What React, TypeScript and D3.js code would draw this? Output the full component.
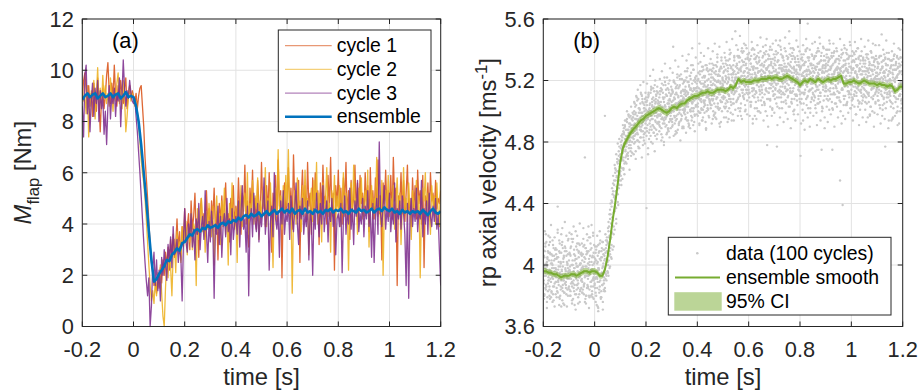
import React from "react";
import * as d3 from "d3";

// ---------------- data ----------------
const timeStart = -0.2;
const cycleStep = 0.005; // s, cycles 1-3
const ensembleStep = 0.01; // s, ensemble curves
const scatterStep = 0.002; // s, scatter samples

const timeTicks = [-0.2, 0, 0.2, 0.4, 0.6, 0.8, 1, 1.2];
const timeTickLabels = ["-0.2", "0", "0.2", "0.4", "0.6", "0.8", "1", "1.2"];
const momentTicks = [0, 2, 4, 6, 8, 10, 12];
const momentTickLabels = ["0", "2", "4", "6", "8", "10", "12"];
const velocityTicks = [3.6, 4, 4.4, 4.8, 5.2, 5.6];
const velocityTickLabels = ["3.6", "4", "4.4", "4.8", "5.2", "5.6"];

const legendA = ["cycle 1", "cycle 2", "cycle 3", "ensemble"];
const legendB = ["data (100 cycles)", "ensemble smooth", "95% CI"];

// flap moment [Nm], cycle 1
const cycle1 = [
  8.9, 9.6, 9.9, 9.2, 8.7, 9.4, 8.6, 9.1, 8.2, 9.5, 8.9, 8.4, 9.7, 8.8, 7.6, 8.9, 9.3, 8.5, 9.0, 9.8,
  10.3, 9.2, 8.7, 9.5, 8.9, 10.2, 9.0, 8.6, 9.4, 8.8, 9.6, 9.1, 8.7, 9.3, 9.7, 8.5, 9.0, 9.4, 8.9, 9.2,
  9.0, 8.7, 9.1, 8.5, 9.0, 9.3, 9.4, 8.6, 7.8, 6.6, 5.8, 5.0, 4.1, 3.2, 2.5, 2.1, 1.6, 1.8, 1.3, 1.9,
  1.5, 2.3, 1.7, 2.6, 2.0, 2.9, 2.4, 3.1, 2.2, 3.4, 2.8, 3.6, 2.7, 3.2, 4.2, 3.0, 3.7, 2.6, 3.9, 3.3,
  4.6, 3.4, 3.9, 4.4, 3.0, 4.9, 3.8, 4.3, 5.2, 3.6, 4.1, 2.7, 4.5, 5.0, 3.9, 4.4, 3.5, 5.3, 4.0, 4.6,
  3.8, 4.9, 4.2, 5.4, 3.7, 4.5, 2.6, 4.8, 4.1, 5.1, 3.9, 4.6, 5.6, 4.0, 4.4, 3.3, 5.0, 4.3, 5.5, 3.9,
  4.7, 4.1, 5.8, 4.4, 3.6, 5.2, 4.5, 6.3, 4.0, 4.9, 3.1, 5.4, 4.6, 6.1, 4.2, 5.0, 3.8, 5.7, 4.8, 4.3,
  6.4, 4.6, 5.1, 3.9, 5.5, 4.4, 6.0, 4.8, 2.9, 5.2, 4.5, 5.9, 4.1, 6.5, 4.7, 5.3, 1.9, 4.9, 5.6, 4.4,
  5.0, 6.2, 4.5, 5.4, 3.8, 6.7, 4.8, 5.1, 4.2, 5.7, 2.5, 5.0, 6.1, 4.6, 5.5, 4.1, 6.4, 4.7, 5.2, 3.6,
  5.8, 4.4, 6.0, 4.9, 5.3, 3.2, 5.6, 4.5, 6.3, 4.8, 5.1, 4.0, 5.9, 4.6, 6.6, 4.3, 5.2, 2.2, 5.5, 4.7,
  6.1, 4.5, 5.4, 4.0, 5.8, 4.9, 6.4, 4.2, 5.3, 3.4, 5.7, 4.6, 5.0, 6.3, 4.4, 5.6, 4.1, 5.9, 4.8, 5.2,
  4.3, 6.0, 4.9, 5.5, 3.7, 6.2, 4.6, 5.3, 4.2, 5.8, 4.7, 6.5, 4.4, 5.1, 2.6, 5.6, 4.8, 6.1, 4.5, 5.3,
  4.6, 5.9, 4.2, 6.6, 4.9, 5.4, 1.6, 5.1, 4.7, 6.0, 4.4, 5.7, 4.1, 5.2, 6.3, 4.5, 5.0, 3.9, 5.8, 4.6,
  5.5, 4.2, 6.1, 4.8, 5.3, 4.0, 5.9, 2.3, 5.1, 4.7, 5.6, 4.3, 6.0, 4.9, 5.2, 4.4, 5.7, 4.6, 5.0, 4.8, 5.3,
];

// flap moment [Nm], cycle 2
const cycle2 = [
  9.3, 8.8, 9.0, 8.3, 9.4, 7.4, 8.6, 9.2, 8.9, 9.6, 8.1, 9.0, 10.1, 8.7, 9.3, 8.5, 9.8, 8.9, 9.4, 8.7,
  9.1, 8.6, 9.7, 9.0, 8.4, 9.3, 8.8, 9.5, 9.9, 8.7, 9.2, 8.5, 9.6, 8.9, 7.6, 8.2, 9.0, 9.4, 8.8, 9.1,
  8.9, 8.6, 8.8, 8.4, 7.9, 7.2, 6.5, 6.0, 5.6, 5.0, 4.2, 3.3, 2.4, 1.6, 1.0, 1.4, 0.9, 1.8, 1.2, 2.1,
  1.6, 2.4, 1.3, 0.4, 0.0, 1.5, 2.6, 1.9, 3.0, 2.3, 1.2, 2.8, 3.4, 2.1, 3.7, 2.9, 3.3, 2.5, 3.9, 3.1,
  3.6, 4.1, 2.8, 3.9, 3.3, 4.4, 3.0, 4.0, 3.8, 1.6, 4.6, 3.4, 4.2, 5.0, 3.7, 4.3, 2.9, 4.5, 3.8, 4.8,
  4.1, 3.5, 4.7, 2.4, 4.0, 5.1, 3.7, 4.4, 3.2, 4.9, 4.2, 5.4, 3.6, 4.5, 2.4, 4.8, 4.0, 5.6, 4.3, 3.8,
  4.6, 2.5, 4.9, 4.1, 5.5, 3.9, 4.7, 5.2, 4.3, 6.0, 3.6, 4.8, 4.4, 5.7, 4.0, 5.1, 4.6, 5.8, 3.4, 4.9,
  4.2, 5.3, 4.7, 6.2, 3.9, 5.0, 4.4, 5.6, 4.1, 2.3, 4.8, 5.4, 4.3, 6.9, 4.6, 5.1, 3.8, 5.5, 4.5, 5.9,
  4.7, 6.9, 4.2, 5.0, 1.3, 4.4, 5.3, 4.0, 5.8, 4.5, 4.9, 3.7, 5.5, 4.3, 6.1, 4.6, 5.0, 2.8, 4.8, 5.4,
  4.1, 5.7, 4.5, 6.4, 4.0, 5.2, 4.7, 3.3, 5.6, 4.4, 5.0, 6.2, 4.3, 4.8, 2.9, 5.3, 4.6, 5.9, 4.2, 5.1,
  4.5, 5.5, 3.9, 4.9, 6.0, 4.3, 5.2, 4.7, 2.2, 4.8, 5.6, 4.1, 6.3, 4.5, 5.0, 3.6, 5.4, 4.6, 5.8, 4.2,
  4.9, 5.3, 4.4, 6.1, 3.1, 4.7, 5.5, 4.2, 5.0, 4.6, 6.6, 4.3, 5.1, 4.0, 5.7, 2.0, 4.8, 5.3, 4.5, 5.9,
  4.3, 5.0, 4.6, 5.5, 3.8, 4.9, 5.8, 4.4, 5.2, 3.2, 4.7, 6.2, 4.5, 5.0, 4.1, 5.6, 4.6, 3.4, 5.3, 4.8,
  4.4, 5.7, 4.2, 5.1, 1.9, 4.6, 5.4, 4.9, 6.0, 4.3, 5.2, 4.5, 3.6, 5.5, 4.7, 5.1, 4.0, 5.6, 4.4, 3.9, 6.2,
];

// flap moment [Nm], cycle 3
const cycle3 = [
  8.6, 7.4, 9.8, 10.2, 8.3, 9.1, 7.6, 8.8, 9.5, 8.2, 9.3, 8.7, 9.6, 8.0, 9.2, 8.5, 9.0, 7.5, 8.4, 7.1,
  8.6, 9.4, 8.1, 9.0, 8.7, 9.3, 8.2, 9.1, 8.8, 9.7, 7.8, 9.0, 10.4, 9.3, 8.6, 9.2, 8.9, 9.6, 9.1, 8.8,
  8.7, 8.9, 8.2, 7.6, 6.8, 6.0, 5.1, 4.2, 3.3, 2.5, 1.8, 1.2, 1.9, 0.0, 0.8, 2.3, 2.9, 1.6, 2.6, 1.4,
  2.2, 1.0, 2.7, 2.0, 3.0, 2.4, 1.8, 3.2, 2.6, 3.5, 2.3, 3.9, 2.8, 2.9, 3.4, 2.5, 3.1, 2.7, 1.0, 3.2,
  4.6, 3.3, 2.9, 4.0, 3.5, 4.4, 3.1, 3.8, 2.6, 4.2, 3.6, 4.8, 3.0, 3.9, 4.3, 3.4, 5.3, 3.7, 2.5, 4.1,
  3.3, 4.5, 3.8, 1.1, 4.0, 3.6, 4.7, 3.2, 4.3, 2.7, 3.9, 4.4, 3.5, 5.0, 3.7, 4.2, 2.8, 4.6, 3.4, 4.0,
  4.3, 3.6, 4.9, 3.1, 4.5, 5.5, 3.8, 4.2, 2.9, 4.7, 1.2, 4.0, 4.6, 3.5, 5.2, 4.1, 3.7, 4.8, 3.3, 4.4,
  3.9, 4.6, 5.8, 3.6, 4.3, 4.9, 2.2, 4.1, 4.7, 3.5, 6.0, 4.2, 3.8, 4.5, 2.7, 4.9, 4.0, 5.3, 3.6, 4.4,
  4.1, 4.8, 3.4, 5.1, 4.3, 3.7, 4.6, 5.6, 4.0, 3.2, 4.7, 4.2, 5.0, 3.6, 4.4, 3.9, 4.9, 2.6, 4.5, 4.1,
  2.0, 4.6, 3.8, 5.2, 4.3, 3.5, 4.8, 4.0, 5.5, 3.7, 4.4, 4.9, 3.3, 4.6, 4.1, 5.0, 3.9, 4.5, 2.8, 4.2,
  4.4, 3.9, 4.8, 2.1, 4.2, 5.1, 3.6, 4.5, 4.0, 5.4, 3.8, 4.6, 3.2, 4.9, 4.3, 5.7, 3.7, 4.4, 4.0, 5.0,
  3.5, 4.7, 4.2, 5.3, 3.9, 4.5, 2.7, 4.8, 2.5, 4.3, 5.0, 3.6, 7.2, 4.4, 3.9, 4.7, 5.5, 3.8, 4.6, 4.1,
  5.2, 3.7, 4.5, 4.0, 5.6, 3.3, 4.6, 4.2, 4.9, 3.8, 5.1, 4.4, 3.6, 1.6, 4.8, 1.1, 4.3, 5.0, 3.9, 4.6,
  4.1, 5.4, 3.7, 4.5, 4.2, 5.7, 3.5, 4.6, 4.0, 4.9, 3.6, 5.2, 4.3, 3.9, 4.7, 4.1, 5.0, 3.8, 4.4, 2.9, 1.6,
];

// flap moment [Nm], ensemble average
const ensembleMoment = [
  8.85, 9.0, 9.1, 8.95, 9.05, 9.1, 8.9, 9.0, 9.1, 8.95,
  9.0, 9.1, 8.95, 9.05, 9.1, 8.9, 9.0, 9.15, 8.95, 9.0,
  8.95, 8.6, 8.0, 7.1, 6.0, 4.9, 3.7, 2.6, 1.75, 1.85,
  2.05, 2.2, 2.35, 2.6, 2.55, 2.8, 2.9, 3.05, 2.95, 3.25,
  3.3, 3.45, 3.6, 3.55, 3.75, 3.8, 3.7, 3.85, 3.8, 3.95,
  3.85, 3.9, 3.95, 3.85, 4.0, 4.05, 3.95, 4.1, 4.05, 4.15,
  4.1, 4.25, 4.15, 4.3, 4.35, 4.25, 4.4, 4.3, 4.35, 4.45,
  4.3, 4.4, 4.5, 4.35, 4.45, 4.55, 4.4, 4.5, 4.6, 4.45,
  4.55, 4.45, 4.6, 4.4, 4.5, 4.55, 4.4, 4.6, 4.45, 4.5,
  4.4, 4.55, 4.45, 4.5, 4.4, 4.55, 4.5, 4.6, 4.45, 4.55,
  4.5, 4.6, 4.45, 4.5, 4.4, 4.55, 4.5, 4.45, 4.6, 4.5,
  4.55, 4.45, 4.5, 4.6, 4.45, 4.55, 4.6, 4.5, 4.65, 4.55,
  4.5, 4.6, 4.45, 4.5, 4.4, 4.55, 4.45, 4.5, 4.4, 4.5,
  4.45, 4.5, 4.4, 4.55, 4.45, 4.35, 4.5, 4.6, 4.45, 4.4, 4.5,
];

// rotor-plane axial velocity [m/s], ensemble smooth
const ensembleVelocity = [
  3.96, 3.96, 3.95, 3.95, 3.94, 3.94, 3.93, 3.92, 3.93, 3.93,
  3.93, 3.94, 3.94, 3.93, 3.94, 3.95, 3.96, 3.96, 3.95, 3.96,
  3.96, 3.95, 3.93, 3.93, 3.97, 4.05, 4.16, 4.29, 4.40, 4.53,
  4.67, 4.76, 4.80, 4.83, 4.86, 4.88, 4.90, 4.92, 4.94, 4.95,
  4.97, 4.98, 4.99, 5.00, 5.01, 5.02, 5.01, 5.00, 4.99, 5.00,
  5.02, 5.03, 5.02, 5.04, 5.05, 5.05, 5.07, 5.08, 5.09, 5.10,
  5.10, 5.11, 5.12, 5.12, 5.13, 5.12, 5.12, 5.13, 5.14, 5.14,
  5.14, 5.13, 5.14, 5.16, 5.15, 5.17, 5.21, 5.19, 5.20, 5.19,
  5.19, 5.19, 5.20, 5.20, 5.20, 5.21, 5.21, 5.21, 5.22, 5.21,
  5.22, 5.22, 5.21, 5.21, 5.22, 5.23, 5.22, 5.21, 5.20, 5.19,
  5.17, 5.19, 5.20, 5.19, 5.21, 5.20, 5.19, 5.21, 5.20, 5.19,
  5.20, 5.21, 5.20, 5.21, 5.21, 5.22, 5.23, 5.18, 5.18, 5.19,
  5.19, 5.20, 5.19, 5.18, 5.19, 5.20, 5.19, 5.18, 5.18, 5.18,
  5.17, 5.18, 5.17, 5.17, 5.16, 5.17, 5.16, 5.13, 5.14, 5.16, 5.16,
];

// 95% CI half width [m/s] per 0.1 s interval
const ciHalfWidth = [0.02, 0.02, 0.02, 0.025, 0.022, 0.02, 0.02, 0.02, 0.02, 0.02, 0.02, 0.02, 0.02, 0.02, 0.02];

// scattered velocity samples [m/s] (four sample sets, 0.002 s spacing)
const velocitySetA = [
  3.99,3.88,4.05,3.93,4.12,3.84,3.97,4.02,3.79,3.95,4.08,3.90,3.86,4.15,3.94,4.01,3.82,3.98,4.06,3.91,3.77,4.03,3.96,4.10,3.89,
  3.92,4.04,3.83,4.38,3.97,3.87,4.09,3.95,3.80,4.01,3.90,4.13,3.85,3.99,3.75,4.06,3.93,3.88,4.11,3.96,3.81,4.02,3.91,3.98,4.17,
  3.86,3.97,4.07,3.83,3.94,4.20,3.89,4.00,3.78,3.96,4.10,3.87,3.93,4.04,3.81,3.99,4.14,3.90,3.85,4.05,3.92,3.76,4.01,3.95,4.08,
  3.91,4.03,3.84,4.12,3.96,3.88,4.70,3.99,3.80,4.07,3.93,4.16,3.86,3.98,4.04,3.79,3.95,4.10,3.89,4.02,3.83,3.97,4.21,3.90,4.05,
  3.96,3.85,4.08,3.92,3.74,4.01,3.89,4.13,3.97,3.82,4.04,3.93,3.78,4.09,3.95,3.87,4.15,3.99,3.84,4.06,4.97,3.91,4.11,4.02,4.18,
  4.08,3.95,4.22,4.12,3.98,4.30,4.17,4.05,4.38,4.21,4.46,4.29,4.12,4.52,4.36,4.60,4.44,4.27,4.58,4.49,4.66,4.39,4.71,4.55,4.64,
  4.72,4.58,4.78,4.69,4.83,4.74,4.62,4.86,4.79,4.91,4.70,4.84,4.77,4.95,4.81,4.73,4.88,4.92,4.80,4.85,4.97,4.76,4.89,4.83,4.94,
  4.86,4.98,4.79,4.92,5.03,4.85,4.95,4.88,5.07,4.81,4.93,4.99,4.76,4.90,5.05,4.94,4.87,5.10,4.91,4.97,4.83,5.02,4.95,4.89,5.06,
  4.96,4.37,5.04,4.91,5.09,4.98,4.86,5.02,4.94,5.12,5.00,4.88,5.06,4.95,5.15,4.90,5.03,4.97,4.84,5.08,4.99,5.13,4.92,5.05,4.98,
  5.02,4.93,5.11,4.97,5.06,4.89,5.14,5.00,4.95,5.08,4.80,5.03,4.96,5.17,5.01,4.91,5.10,4.98,5.05,4.87,5.12,4.99,5.07,4.94,5.16,
  5.04,4.95,5.13,5.42,5.00,5.09,4.92,5.18,5.05,4.97,5.11,5.02,4.88,5.15,5.06,4.99,5.21,5.03,4.94,5.10,5.07,4.90,5.14,5.01,5.19,
  5.08,4.98,5.16,5.03,5.22,4.94,5.11,5.05,5.19,4.91,5.09,5.14,5.00,5.25,5.06,4.96,5.13,5.02,5.20,5.07,4.87,5.15,5.04,5.23,5.10,
  5.13,5.03,5.21,5.08,5.44,5.12,4.99,5.18,5.06,5.26,5.10,5.01,5.16,5.23,5.05,5.19,4.93,5.14,5.09,5.28,5.02,5.17,5.11,5.24,5.07,
  5.15,5.04,5.22,5.10,5.31,5.07,5.18,4.97,5.25,5.12,5.20,5.03,5.16,5.29,5.09,5.23,5.14,5.01,5.27,5.11,5.19,5.06,5.33,5.13,5.21,
  5.17,5.08,5.26,5.12,5.35,5.05,5.21,5.14,5.30,5.00,5.19,5.24,5.10,5.37,5.16,5.06,5.28,5.13,5.22,4.98,5.25,5.11,5.33,5.18,5.52,
  5.24,5.13,5.31,5.20,5.40,5.09,5.27,5.16,5.35,5.22,5.05,5.29,5.18,5.38,5.14,5.25,5.32,5.11,5.21,5.43,5.17,5.28,5.07,5.34,5.23,
  5.20,5.33,5.12,5.27,5.04,5.36,5.22,5.15,5.41,5.18,5.29,5.09,5.25,5.34,5.13,5.23,5.02,5.31,5.19,5.38,5.16,5.26,5.11,5.30,5.21,
  5.24,5.14,5.35,5.19,5.29,5.06,5.32,5.22,5.43,5.15,5.27,4.78,5.21,5.37,5.12,5.30,5.25,5.08,5.34,5.18,5.40,5.23,5.13,5.28,5.20,
  5.31,5.11,5.26,5.39,5.17,5.24,5.03,5.33,5.20,5.28,5.14,5.46,5.22,5.09,5.30,5.19,5.36,5.12,5.27,5.23,5.41,5.16,5.29,5.05,5.25,
  5.18,5.34,5.10,5.27,5.52,5.21,5.15,5.32,5.06,5.25,5.38,5.13,5.23,5.29,5.01,5.35,5.19,5.26,5.11,5.30,5.22,5.42,5.14,5.24,5.08,
  5.20,4.71,5.29,5.12,5.35,5.17,5.25,5.05,5.31,5.22,5.14,5.40,5.19,5.27,5.09,5.57,5.21,5.33,5.13,5.26,5.02,5.30,5.18,5.37,5.15,
  5.23,5.11,5.34,5.19,5.28,5.04,5.36,5.21,5.14,5.31,5.25,5.08,5.39,5.17,5.27,5.12,5.33,4.75,5.22,5.29,5.16,5.41,5.20,5.10,5.30,
  5.26,5.13,5.37,5.20,5.30,5.07,5.33,5.22,5.44,5.15,5.28,5.18,5.35,5.02,5.24,5.31,5.11,5.39,5.21,5.27,5.16,5.34,5.09,5.29,5.23,
  5.19,5.36,5.12,4.55,5.28,5.21,5.40,5.14,4.39,5.25,5.33,5.08,5.22,5.30,5.17,5.38,5.05,5.26,5.20,5.34,5.13,5.29,5.18,5.43,5.11,
  5.21,5.32,5.09,5.27,5.16,5.38,5.03,5.25,5.19,5.34,5.12,5.29,5.22,5.41,5.14,5.26,5.06,5.31,5.18,5.36,5.10,5.24,5.20,5.33,5.15,
  5.22,5.10,5.31,5.17,5.37,5.05,5.26,5.19,5.34,5.12,5.28,4.98,5.23,5.39,5.14,5.30,5.20,5.08,5.35,5.16,5.27,5.11,5.43,5.21,5.13,
  5.19,5.32,5.07,5.24,5.14,5.36,5.02,5.27,5.18,5.50,5.10,5.29,5.21,5.33,5.05,5.25,4.77,5.31,5.16,5.38,5.12,5.23,5.09,5.34,5.20,
  5.15,5.28,5.06,5.33,5.18,5.25,4.96,5.30,5.12,5.37,5.21,5.09,5.27,5.14,5.35,5.03,5.24,5.17,5.31,5.10,5.40,5.19,5.07,5.26,5.53,
  5.16,
];
const velocitySetB = [
  3.93,4.06,3.81,3.98,4.14,3.87,4.01,3.76,3.95,4.09,3.90,4.03,3.84,4.18,3.96,3.79,4.07,3.92,4.00,3.86,4.11,3.94,3.73,4.04,3.98,
  3.89,4.10,3.95,3.82,4.05,3.91,4.16,3.78,3.99,3.86,4.08,3.94,4.24,3.83,4.02,3.90,3.74,4.12,3.97,3.85,4.06,3.92,4.01,3.80,3.96,
  4.03,3.84,3.96,4.11,3.88,4.00,3.77,4.15,3.93,3.85,4.07,3.98,3.81,4.22,3.91,4.04,3.87,3.99,3.75,4.09,3.95,4.13,3.83,3.97,3.90,
  4.06,3.82,3.99,4.17,3.87,4.02,3.93,3.78,4.11,3.96,3.85,4.08,3.91,4.25,3.80,4.00,3.94,4.14,3.86,3.97,4.05,3.79,4.19,3.92,4.01,
  3.88,4.04,3.95,3.80,4.12,3.91,4.02,3.72,3.97,4.09,3.86,4.16,3.93,3.83,4.05,3.98,3.76,4.10,3.90,4.03,3.85,4.08,3.94,4.13,4.00,
  3.96,4.14,4.03,4.25,4.09,3.99,4.33,4.18,4.42,4.26,4.10,4.48,4.34,4.55,4.23,4.43,4.62,4.37,4.51,4.69,4.46,4.57,4.74,4.52,4.68,
  4.61,4.76,4.68,4.81,4.56,4.73,4.87,4.79,4.66,4.90,4.75,4.84,4.71,4.93,4.82,4.69,4.86,4.78,4.96,4.83,4.74,4.91,4.87,4.80,4.99,
  4.91,4.82,5.00,4.87,4.95,4.74,5.04,4.90,4.97,4.85,5.08,4.93,4.80,5.01,4.96,4.88,5.11,4.92,4.99,4.78,5.05,4.94,5.02,4.86,4.98,
  5.01,4.89,5.07,4.95,4.72,5.10,4.99,4.92,5.05,4.84,5.14,4.97,5.03,4.91,5.09,4.86,5.00,5.17,4.94,5.06,4.88,5.02,4.96,5.12,4.93,
  4.97,5.09,4.90,5.04,5.15,4.95,5.01,4.83,5.12,4.99,5.06,4.92,5.19,5.03,4.96,5.10,4.86,5.05,5.00,5.14,4.93,5.08,5.02,4.89,5.11,
  5.06,4.93,5.12,5.00,5.20,4.97,5.08,4.85,5.15,5.03,4.95,5.17,5.05,5.10,4.91,5.23,5.01,5.07,4.98,5.13,5.04,4.89,5.18,5.09,4.99,
  5.02,5.14,4.95,5.10,5.04,5.26,4.99,5.12,4.90,5.17,5.07,5.01,5.21,4.97,5.11,5.05,5.30,5.00,5.15,4.93,5.09,5.19,5.03,5.13,4.98,
  5.09,5.20,5.00,5.15,4.92,5.24,5.07,5.13,5.02,5.29,5.11,4.96,5.18,5.06,5.22,5.04,5.16,4.89,5.27,5.10,5.14,5.01,5.21,5.08,5.31,
  5.12,5.02,5.24,5.08,5.17,4.95,5.28,5.11,5.05,5.20,4.99,5.26,5.14,5.09,5.32,5.03,5.19,5.13,4.92,5.23,5.07,5.29,5.16,5.00,5.18,
  5.13,5.25,5.03,5.19,5.09,5.31,4.96,5.22,5.15,5.06,5.28,5.11,5.02,5.34,5.17,5.08,5.24,4.94,5.20,5.14,5.30,5.05,5.26,5.12,5.21,
  5.18,5.06,5.30,5.15,5.25,5.02,5.36,5.21,5.10,5.28,4.97,5.23,5.33,5.12,5.19,5.39,5.08,5.26,5.16,5.01,5.31,5.22,5.14,5.35,5.11,
  5.25,5.09,5.18,5.34,5.03,5.22,5.29,5.13,4.95,5.27,5.20,5.37,5.11,5.24,5.06,5.32,5.17,5.28,5.00,5.21,5.35,5.14,5.26,4.99,5.23,
  5.16,5.31,5.09,5.26,5.20,5.38,5.04,5.23,5.14,5.33,5.27,4.97,5.19,5.29,5.12,5.36,5.22,5.07,5.30,5.17,5.25,5.01,5.34,5.21,5.11,
  5.22,5.08,5.30,5.18,5.37,4.77,5.25,5.13,5.33,5.21,5.02,5.28,5.16,5.40,5.11,5.26,5.19,5.35,5.06,5.24,5.31,5.15,4.99,5.27,5.20,
  5.26,5.14,5.35,5.03,5.23,5.30,5.12,5.41,5.19,5.08,5.28,5.21,5.36,4.98,5.25,5.17,5.32,5.10,5.27,5.22,5.04,5.34,5.16,5.29,5.13,
  5.11,5.28,5.05,5.24,5.18,5.33,4.94,5.21,5.30,5.12,5.26,5.39,5.08,5.23,5.16,5.35,5.02,5.27,5.20,4.90,5.31,5.14,5.25,5.09,5.36,
  5.18,5.30,5.07,5.25,5.36,5.13,5.22,4.99,5.29,5.16,5.41,5.10,5.24,5.32,5.06,5.27,5.19,5.38,5.03,5.26,5.14,5.33,5.21,4.96,5.28,
  5.17,5.31,5.08,5.23,5.40,5.14,5.27,5.01,5.34,5.20,5.11,5.29,5.24,4.75,5.18,5.36,5.12,5.26,5.05,5.32,5.22,5.15,5.39,5.09,5.25,
  5.28,5.12,5.33,5.20,5.06,5.26,5.37,5.15,5.23,4.97,5.30,5.18,5.41,5.10,5.27,5.21,5.04,5.34,5.16,5.25,5.11,5.36,5.19,5.02,5.29,
  5.14,5.27,5.04,5.33,5.20,5.11,5.37,5.18,5.25,4.98,5.30,5.15,5.22,5.07,5.35,5.19,5.28,5.01,5.24,5.12,5.39,5.16,5.26,5.09,5.31,
  5.17,5.29,5.06,5.24,5.13,5.35,5.20,4.96,5.27,5.10,5.32,5.18,5.23,5.03,5.38,5.15,5.26,5.08,5.30,5.21,4.99,5.34,5.12,5.25,5.19,
  5.23,5.10,5.29,5.16,5.35,5.04,5.21,5.27,5.13,5.32,4.97,5.19,5.25,5.08,5.37,5.15,5.22,5.02,5.30,5.17,5.11,5.34,5.20,4.94,5.26,
  5.12,5.25,5.03,5.30,5.17,4.95,5.22,5.34,5.10,5.27,5.19,5.06,5.32,5.14,5.23,5.00,5.29,5.16,4.92,5.26,5.11,5.35,5.18,5.08,5.24,
  5.13,
];
const velocitySetC = [
  4.01,3.90,3.80,4.09,3.95,4.20,3.86,3.99,4.05,3.83,3.92,4.13,3.97,3.78,4.07,3.89,4.03,3.94,4.16,3.81,3.98,4.06,3.88,3.93,4.11,
  3.97,3.85,4.05,4.21,3.90,3.99,3.79,4.08,3.94,4.02,3.73,3.96,4.15,3.87,4.04,3.92,3.82,4.09,3.98,3.89,4.19,3.93,3.84,4.07,3.95,
  3.91,4.08,3.99,3.80,4.12,3.94,3.86,4.03,4.17,3.90,3.98,3.74,4.06,3.92,4.01,3.84,4.10,3.96,3.88,4.14,3.81,4.00,3.93,4.07,3.85,
  3.98,3.89,4.07,3.95,3.81,4.13,3.92,4.04,3.75,3.99,4.09,3.87,4.01,3.93,4.18,3.84,4.06,3.96,3.80,4.11,3.90,4.00,3.86,4.08,3.94,
  4.02,3.91,3.82,4.10,3.96,3.85,4.06,3.70,3.98,3.89,4.14,3.93,4.03,3.79,4.11,3.87,3.99,4.07,3.92,3.83,4.04,3.95,4.16,3.90,4.09,
  4.15,4.00,4.28,4.06,4.19,4.36,4.11,4.27,4.04,4.41,4.31,4.53,4.20,4.45,4.35,4.63,4.48,4.30,4.57,4.67,4.41,4.61,4.50,4.77,4.59,
  4.64,4.80,4.52,4.75,4.85,4.70,4.63,4.89,4.77,4.82,4.67,4.94,4.79,4.72,4.88,4.84,4.98,4.76,4.90,4.81,4.86,4.71,4.95,4.88,4.83,
  4.96,4.84,4.91,5.05,4.80,4.99,4.89,5.09,4.86,4.94,4.77,5.02,4.93,4.99,4.83,5.12,4.90,4.97,5.06,4.87,4.95,4.81,5.00,5.08,4.92,
  4.94,5.06,4.87,5.00,4.96,5.11,4.82,5.04,4.98,4.90,5.16,4.95,5.08,4.79,5.02,4.99,5.13,4.89,5.05,4.93,5.10,4.97,4.85,5.07,5.01,
  5.05,4.91,5.13,4.98,5.02,4.85,5.18,4.96,5.09,5.00,4.94,5.22,5.04,4.90,5.11,5.01,4.97,5.15,4.88,5.07,5.03,5.20,4.95,5.10,4.99,
  5.00,5.14,4.91,5.07,5.19,5.02,4.96,5.11,4.87,5.16,5.05,5.24,4.98,5.09,5.03,4.93,5.17,5.06,5.12,4.95,5.21,5.01,5.08,4.90,5.13,
  5.11,5.01,5.20,4.96,5.13,5.07,5.28,5.03,4.92,5.16,5.09,5.23,5.00,5.14,4.94,5.18,5.06,5.27,5.02,5.10,4.98,5.21,5.08,5.15,5.04,
  5.16,5.05,5.25,5.10,4.99,5.19,5.32,5.08,5.14,4.94,5.22,5.11,5.27,5.03,5.17,5.07,5.30,5.12,5.00,5.20,5.09,5.26,4.97,5.15,5.06,
  5.07,5.19,5.27,5.04,5.14,5.22,5.00,5.30,5.10,5.17,4.96,5.24,5.08,5.15,5.35,5.05,5.20,5.12,5.26,5.02,5.18,4.93,5.28,5.09,5.16,
  5.20,5.09,5.29,5.15,5.02,5.23,5.33,5.07,5.18,5.26,5.11,4.95,5.21,5.30,5.14,5.38,5.04,5.24,5.16,5.27,5.08,5.19,5.35,5.13,5.22,
  5.29,5.15,5.22,5.36,5.08,5.25,5.18,5.32,5.00,5.27,5.20,5.14,5.41,5.23,5.10,5.30,5.17,5.26,5.04,5.34,5.19,5.12,5.28,5.37,5.16,
  5.14,5.27,5.21,5.06,5.31,5.18,5.40,5.24,5.10,5.29,5.15,5.34,4.97,5.22,5.28,5.12,5.36,5.19,5.25,5.07,5.32,5.20,5.13,5.39,5.17,
  5.27,5.12,5.22,5.36,5.17,5.30,5.05,5.25,5.20,5.39,5.13,5.28,5.23,5.34,5.08,5.26,5.18,5.42,5.15,5.31,5.21,5.02,5.29,5.16,5.37,
  5.19,5.35,5.14,5.27,5.22,5.09,5.32,5.18,5.43,5.25,5.12,5.30,5.20,5.37,5.06,5.28,5.16,5.24,5.33,5.11,5.26,5.19,5.39,5.13,5.29,
  5.23,5.09,5.31,5.17,5.26,5.37,5.13,5.29,5.20,5.05,5.34,5.22,5.15,5.40,5.27,5.11,5.32,5.18,5.24,5.07,5.36,5.21,5.14,5.30,5.19,
  5.27,5.16,5.34,5.08,5.23,5.30,5.12,5.37,5.20,5.26,4.99,5.32,5.17,5.24,5.41,5.10,5.29,5.21,5.35,5.14,5.25,5.06,5.31,5.19,5.28,
  5.12,5.26,5.20,5.35,5.09,5.29,5.17,5.38,5.23,5.05,5.31,5.14,5.27,5.21,5.44,5.10,5.33,5.18,5.25,5.02,5.30,5.16,5.36,5.22,5.13,
  5.29,5.16,5.35,5.21,5.10,5.32,5.24,5.40,5.13,5.27,5.19,5.36,5.06,5.30,5.22,5.15,5.38,5.25,5.11,5.33,5.20,5.28,5.03,5.34,5.18,
  5.24,5.31,5.07,5.27,5.19,5.35,5.14,5.29,5.22,5.38,5.10,5.26,5.16,5.33,5.04,5.28,5.20,5.37,5.13,5.25,5.31,5.09,5.23,5.17,5.36,
  5.25,5.17,5.36,5.08,5.28,5.21,5.32,5.13,5.26,5.39,5.10,5.23,5.30,5.16,5.34,5.05,5.27,5.19,5.33,5.14,5.24,5.29,5.07,5.35,5.20,
  5.26,5.14,5.33,5.20,5.09,5.28,5.22,5.37,5.11,5.25,5.18,5.31,5.03,5.27,5.21,5.35,5.15,5.24,5.10,5.32,5.19,5.29,5.06,5.23,5.34,
  5.15,5.28,5.21,5.07,5.31,5.18,5.25,5.36,5.11,5.22,5.29,5.04,5.33,5.17,5.26,5.12,5.35,5.20,5.27,5.09,5.30,5.16,5.24,5.38,5.13,
  5.21,5.10,5.29,5.17,5.33,5.05,5.24,5.20,5.36,5.12,5.27,5.15,5.31,4.99,5.22,5.28,5.08,5.34,5.18,5.25,5.11,5.30,5.19,5.02,5.26,
  5.19,
];
const velocitySetD = [
  4.10,3.78,3.99,4.22,3.85,3.93,4.15,3.72,4.04,3.88,4.19,3.96,3.80,4.08,3.91,4.26,3.83,4.01,3.76,4.13,3.94,3.86,4.18,3.98,3.81,
  4.07,3.79,3.95,4.23,3.89,4.02,3.74,4.14,3.92,3.84,4.20,3.97,3.77,4.11,3.90,4.05,3.82,4.28,3.94,3.87,4.09,3.73,4.00,4.16,3.85,
  3.96,4.21,3.80,4.06,3.91,4.17,3.75,4.00,3.88,4.25,3.83,4.03,3.94,3.71,4.12,3.87,4.19,3.99,3.79,4.08,3.92,4.27,3.84,4.01,3.90,
  4.14,3.82,3.98,4.24,3.86,4.05,3.76,4.11,3.93,3.80,4.20,3.95,3.85,4.09,3.72,4.02,4.18,3.89,3.97,4.26,3.81,4.06,3.91,3.78,4.13,
  3.87,4.12,3.76,4.03,3.92,4.19,3.73,3.98,4.08,3.84,4.22,3.90,3.79,4.05,3.95,4.15,3.71,4.01,3.88,4.10,3.83,4.20,4.04,3.93,4.16,
  4.02,4.24,3.93,4.18,4.33,4.07,4.40,4.22,4.13,4.50,4.31,4.58,4.25,4.44,4.65,4.38,4.55,4.72,4.47,4.61,4.79,4.53,4.68,4.82,4.60,
  4.70,4.55,4.84,4.63,4.77,4.91,4.68,4.85,4.59,4.94,4.74,4.88,4.66,5.00,4.80,4.71,4.97,4.83,4.62,4.92,4.78,5.03,4.86,4.73,4.96,
  4.89,4.72,5.06,4.84,4.98,4.69,5.10,4.91,4.81,5.14,4.95,4.76,5.02,4.88,5.17,4.83,4.99,4.70,5.08,4.93,5.19,4.85,5.04,4.79,5.12,
  5.09,4.84,5.18,4.95,4.76,5.12,5.01,4.88,5.23,4.97,4.80,5.15,5.04,4.91,5.27,4.86,5.07,4.74,5.20,4.99,5.11,4.82,5.16,5.02,4.92,
  5.06,4.87,5.21,4.98,5.13,4.81,5.26,5.03,4.92,5.17,4.78,5.09,5.31,4.95,5.14,4.85,5.22,5.00,4.89,5.18,5.05,4.83,5.28,4.97,5.11,
  5.14,4.90,5.25,5.03,4.84,5.19,5.08,5.33,4.94,5.12,4.86,5.22,5.01,5.29,4.92,5.16,5.05,4.81,5.24,5.10,4.97,5.36,5.07,4.89,5.20,
  5.00,5.26,5.12,4.86,5.33,5.05,5.19,4.94,5.37,5.09,5.23,4.89,5.15,5.30,5.02,5.41,5.08,4.91,5.27,5.14,4.97,5.22,5.35,5.04,5.18,
  5.20,4.97,5.31,5.09,4.91,5.26,5.14,5.38,5.01,5.18,4.94,5.29,5.07,5.36,4.99,5.23,5.12,4.88,5.30,5.16,5.04,5.41,5.10,4.96,5.27,
  5.05,5.34,5.17,4.92,5.26,5.39,5.08,5.21,4.98,5.44,5.13,5.30,4.95,5.19,5.37,5.02,5.24,5.11,5.42,4.90,5.28,5.15,5.35,5.06,5.22,
  5.31,5.10,4.96,5.38,5.19,5.27,5.03,5.45,5.14,4.93,5.33,5.22,5.08,5.40,5.17,4.99,5.29,5.12,5.47,5.05,5.24,4.94,5.36,5.20,5.01,
  5.16,5.43,5.07,5.28,4.97,5.35,5.21,5.11,5.49,5.02,5.26,5.39,4.95,5.18,5.32,5.09,5.44,5.23,5.00,5.30,5.14,5.41,4.98,5.25,5.37,
  5.12,5.38,4.97,5.24,5.31,5.06,5.45,5.19,4.92,5.28,5.14,5.40,5.02,5.22,5.35,4.95,5.17,5.43,5.09,5.26,5.00,5.33,5.21,5.48,5.07,
  5.30,5.04,5.19,5.42,4.94,5.25,5.11,5.37,5.00,5.28,5.47,5.08,5.21,4.90,5.34,5.15,5.40,5.03,5.23,5.32,4.97,5.18,5.44,5.10,5.26,
  4.99,5.33,5.15,5.46,5.05,5.24,4.91,5.38,5.20,5.09,5.30,4.96,5.42,5.13,5.27,5.02,5.35,5.18,4.93,5.29,5.11,5.48,5.07,5.22,5.36,
  5.14,4.95,5.31,5.22,5.44,5.03,5.26,4.89,5.36,5.12,5.19,5.41,5.00,5.28,5.08,5.34,4.94,5.21,5.46,5.10,5.25,4.98,5.32,5.16,5.39,
  5.06,5.29,4.92,5.37,5.17,5.01,5.43,5.23,5.11,4.88,5.32,5.20,5.47,5.04,5.26,4.96,5.35,5.13,5.24,5.40,4.99,5.18,5.30,5.08,5.44,
  5.21,4.97,5.34,5.10,5.45,5.02,5.27,5.16,4.91,5.39,5.23,5.05,5.31,5.48,5.12,4.94,5.36,5.19,5.00,5.28,5.42,5.07,5.25,4.89,5.33,
  5.15,5.40,5.03,5.26,4.93,5.35,5.19,5.46,5.08,5.29,4.98,5.22,5.38,5.11,5.01,5.44,5.24,4.90,5.32,5.17,5.05,5.41,5.27,5.13,4.96,
  5.34,5.09,5.25,5.47,5.00,5.20,4.92,5.37,5.14,5.29,5.04,5.43,5.18,4.95,5.31,5.23,5.40,5.06,5.27,4.99,5.35,5.12,5.45,5.21,5.02,
  5.28,5.07,5.39,4.94,5.22,5.33,5.10,5.45,5.16,4.98,5.30,5.24,5.41,5.03,5.19,4.91,5.36,5.13,5.27,5.47,5.05,5.21,4.96,5.34,5.11,
  5.18,5.42,5.01,5.26,4.93,5.37,5.12,5.23,5.46,5.06,5.30,4.97,5.20,5.39,5.09,5.27,5.00,5.44,5.15,4.90,5.33,5.22,5.05,5.36,5.14,
  5.25,4.98,5.31,5.12,5.43,5.04,5.21,4.92,5.36,5.17,5.28,5.01,5.40,5.09,5.23,4.95,5.34,5.14,5.46,5.06,5.19,5.30,4.89,5.26,5.11,
  5.07,5.33,5.20,4.94,5.39,5.13,5.27,5.02,5.44,5.16,4.97,5.30,5.22,5.08,5.36,4.91,5.24,5.41,5.10,5.29,5.00,5.35,5.17,5.05,5.32,
  5.18,
];

// ---------------- styling ----------------
const W = 919;
const H = 390;
const FONT = "'Liberation Sans', Arial, Helvetica, sans-serif";
const AX = "#262626";
const GRID = "#e2e2e2";
const TICK_FS = 21.8;
const LABEL_FS = 23.8;
const LEGEND_FS = 19.4;
const C1 = "#D95319";
const C2 = "#EDB120";
const C3 = "#7E2F8E";
const CE = "#0072BD";
const CG = "#77AC30";
const CS = "#c9c9c9";

const areaA = { left: 82.3, right: 440.7, top: 19, bottom: 326.5 };
const areaB = { left: 543.3, right: 902.7, top: 19, bottom: 326.5 };

const withTime = (vals: number[], step: number) =>
  vals.map((v, i) => [timeStart + i * step, v] as [number, number]);

function Grid({ area, x, y, xt, yt }: any) {
  return (
    <g>
      {xt.map((t: number, i: number) => (
        <line key={"gx" + i} x1={x(t)} x2={x(t)} y1={area.top} y2={area.bottom} stroke={GRID} strokeWidth={1} />
      ))}
      {yt.map((t: number, i: number) => (
        <line key={"gy" + i} x1={area.left} x2={area.right} y1={y(t)} y2={y(t)} stroke={GRID} strokeWidth={1} />
      ))}
    </g>
  );
}

function Frame({ area, x, y, xt, xl, yt, yl }: any) {
  const tl = 5;
  return (
    <g fontFamily={FONT} fill={AX}>
      {xt.map((t: number, i: number) => (
        <g key={"tx" + i}>
          <line x1={x(t)} x2={x(t)} y1={area.bottom} y2={area.bottom - tl} stroke={AX} />
          <line x1={x(t)} x2={x(t)} y1={area.top} y2={area.top + tl} stroke={AX} />
          <text x={x(t)} y={356.5} textAnchor="middle" fontSize={TICK_FS}>
            {xl[i]}
          </text>
        </g>
      ))}
      {yt.map((t: number, i: number) => (
        <g key={"ty" + i}>
          <line x1={area.left} x2={area.left + tl} y1={y(t)} y2={y(t)} stroke={AX} />
          <line x1={area.right} x2={area.right - tl} y1={y(t)} y2={y(t)} stroke={AX} />
          <text x={area.left - 8.5} y={y(t)} dy="0.36em" textAnchor="end" fontSize={TICK_FS}>
            {yl[i]}
          </text>
        </g>
      ))}
      <rect
        x={area.left}
        y={area.top}
        width={area.right - area.left}
        height={area.bottom - area.top}
        fill="none"
        stroke={AX}
        strokeWidth={1}
      />
      <text x={(area.left + area.right) / 2} y={385} textAnchor="middle" fontSize={LABEL_FS}>
        time [s]
      </text>
    </g>
  );
}

export default function App() {
  // ---- panel (a)
  const xA = d3.scaleLinear().domain([-0.2, 1.2]).range([areaA.left, areaA.right]);
  const yA = d3.scaleLinear().domain([0, 12]).range([areaA.bottom, areaA.top]);
  const lineA = d3
    .line<[number, number]>()
    .x((d) => xA(d[0]))
    .y((d) => yA(d[1]));
  const cycles = [
    { vals: cycle1, color: C1 },
    { vals: cycle2, color: C2 },
    { vals: cycle3, color: C3 },
  ];

  // ---- panel (b)
  const xB = d3.scaleLinear().domain([-0.2, 1.2]).range([areaB.left, areaB.right]);
  const yB = d3.scaleLinear().domain([3.6, 5.6]).range([areaB.bottom, areaB.top]);
  const ensB = withTime(ensembleVelocity, ensembleStep);
  const ciOf = (t: number) =>
    ciHalfWidth[Math.min(ciHalfWidth.length - 1, Math.floor((t - timeStart) / 0.1 + 1e-9))];
  const band = d3
    .area<[number, number]>()
    .x((d) => xB(d[0]))
    .y0((d) => yB(d[1] - ciOf(d[0])))
    .y1((d) => yB(d[1] + ciOf(d[0])));
  const lineB = d3
    .line<[number, number]>()
    .x((d) => xB(d[0]))
    .y((d) => yB(d[1]));
  const scatter = [velocitySetA, velocitySetB, velocitySetC, velocitySetD].flatMap((s) => withTime(s, scatterStep));

  const legA = { x: 278.3, y: 30, w: 152.7, h: 101.7, row0: 45.7, dy: 23.7 };
  const legB = { x: 668.3, y: 237.3, w: 222.7, h: 77.7, row0: 253.3, dy: 24.2 };
  const legAColors = [C1, C2, C3, CE];

  return (
    <svg
      width={W}
      height={H}
      viewBox={`0 0 ${W} ${H}`}
      style={{ position: "absolute", left: 0, top: 0, background: "#fff" }}
      fontFamily={FONT}
    >
      <defs>
        <clipPath id="clipA">
          <rect x={areaA.left} y={areaA.top - 1} width={areaA.right - areaA.left} height={areaA.bottom - areaA.top + 2} />
        </clipPath>
        <clipPath id="clipB">
          <rect x={areaB.left} y={areaB.top} width={areaB.right - areaB.left} height={areaB.bottom - areaB.top} />
        </clipPath>
      </defs>
      <rect x={0} y={0} width={W} height={H} fill="#fff" />

      {/* ===== panel (a) ===== */}
      <Grid area={areaA} x={xA} y={yA} xt={timeTicks} yt={momentTicks} />
      <g clipPath="url(#clipA)">
        {cycles.map((c, i) => (
          <path
            key={i}
            d={lineA(withTime(c.vals, cycleStep)) || ""}
            fill="none"
            stroke={c.color}
            strokeWidth={1.3}
            strokeOpacity={0.88}
            strokeLinejoin="round"
          />
        ))}
        <path
          d={lineA(withTime(ensembleMoment, ensembleStep)) || ""}
          fill="none"
          stroke={CE}
          strokeWidth={2.6}
          strokeLinejoin="round"
        />
      </g>
      <Frame area={areaA} x={xA} y={yA} xt={timeTicks} xl={timeTickLabels} yt={momentTicks} yl={momentTickLabels} />
      <text x={112} y={47.5} fontSize={TICK_FS} fill="#000">
        (a)
      </text>
      <text transform="translate(31,172.7) rotate(-90)" textAnchor="middle" fontSize={LABEL_FS} fill={AX}>
        <tspan fontStyle="italic">M</tspan>
        <tspan fontSize={16.6} dy={8}>
          flap
        </tspan>
        <tspan dy={-8}> [Nm]</tspan>
      </text>
      {/* legend (a) */}
      <g>
        <rect x={legA.x} y={legA.y} width={legA.w} height={legA.h} fill="#fff" stroke={AX} strokeWidth={1} />
        {legendA.map((lab, i) => {
          const cy = legA.row0 + i * legA.dy;
          return (
            <g key={lab}>
              <line
                x1={285}
                x2={331.7}
                y1={cy}
                y2={cy}
                stroke={legAColors[i]}
                strokeWidth={i === 3 ? 2.6 : 1.2}
                strokeOpacity={i === 3 ? 1 : 0.6}
              />
              <text x={336.7} y={cy} dy="0.33em" fontSize={LEGEND_FS} fill="#000">
                {lab}
              </text>
            </g>
          );
        })}
      </g>

      {/* ===== panel (b) ===== */}
      <Grid area={areaB} x={xB} y={yB} xt={timeTicks} yt={velocityTicks} />
      <g clipPath="url(#clipB)">
        {scatter.map((d, i) => (
          <circle key={i} cx={xB(d[0])} cy={yB(d[1])} r={1.2} fill={CS} />
        ))}
        <path d={band(ensB) || ""} fill={CG} fillOpacity={0.5} stroke="none" />
        <path d={lineB(ensB) || ""} fill="none" stroke={CG} strokeWidth={2} strokeLinejoin="round" />
      </g>
      <Frame area={areaB} x={xB} y={yB} xt={timeTicks} xl={timeTickLabels} yt={velocityTicks} yl={velocityTickLabels} />
      <text x={573.3} y={47.5} fontSize={TICK_FS} fill="#000">
        (b)
      </text>
      <text transform="translate(496,172.7) rotate(-90)" textAnchor="middle" fontSize={LABEL_FS} fill={AX}>
        rp axial velocity [ms
        <tspan fontSize={16.6} dy={-9}>
          -1
        </tspan>
        <tspan dy={9}>]</tspan>
      </text>
      {/* legend (b) */}
      <g>
        <rect x={legB.x} y={legB.y} width={legB.w} height={legB.h} fill="#fff" stroke={AX} strokeWidth={1} />
        <circle cx={697.3} cy={legB.row0} r={1.3} fill={CS} />
        <line x1={675} x2={720} y1={legB.row0 + legB.dy} y2={legB.row0 + legB.dy} stroke={CG} strokeWidth={2} />
        <rect x={674.3} y={legB.row0 + 2 * legB.dy - 9.5} width={47.4} height={18.5} fill={CG} fillOpacity={0.5} />
        {legendB.map((lab, i) => (
          <text key={lab} x={726} y={legB.row0 + i * legB.dy} dy="0.33em" fontSize={LEGEND_FS} fill="#000">
            {lab}
          </text>
        ))}
      </g>
    </svg>
  );
}
